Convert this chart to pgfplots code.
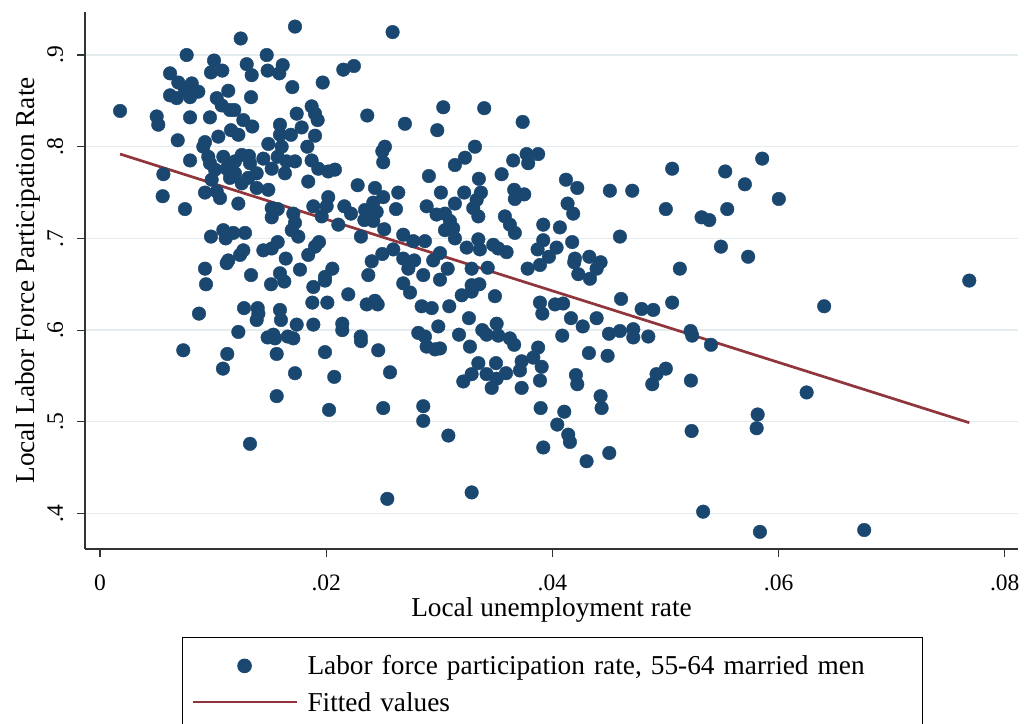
\documentclass[border=0pt]{standalone}
\usepackage{fontspec}
\setmainfont{Liberation Serif}
\usepackage{pgfplots}
\usepackage{pgfplotstable}
\pgfplotsset{compat=1.18}
\definecolor{stnavy}{HTML}{1A476F}
\definecolor{stmaroon}{HTML}{90353B}
\definecolor{stgrid}{HTML}{E4ECEF}
\pgfplotsset{
  dotlegend/.style={legend image code/.code={\draw[mark repeat=2,mark phase=2,##1] plot coordinates {(0pt,0pt) (52pt,0pt) (104pt,0pt)};}},
  linelegend/.style={legend image code/.code={\draw[##1, line width=2pt] (0pt,0pt) -- (104pt,0pt);}},
}
\pgfplotstableread{
x y
0.01724 0.931
0.01244 0.918
0.00766 0.900
0.01474 0.900
0.01008 0.894
0.01297 0.890
0.00981 0.881
0.01081 0.883
0.01341 0.878
0.01482 0.883
0.01615 0.889
0.01585 0.880
0.00619 0.880
0.00692 0.870
0.00811 0.869
0.00869 0.860
0.00619 0.856
0.00678 0.853
0.00796 0.854
0.00751 0.862
0.01134 0.861
0.01700 0.865
0.01969 0.870
0.01335 0.854
0.01032 0.853
0.01076 0.845
0.01149 0.840
0.01187 0.840
0.00177 0.839
0.00501 0.833
0.00515 0.824
0.00796 0.832
0.00972 0.832
0.01739 0.836
0.01871 0.844
0.01901 0.836
0.01924 0.829
0.01267 0.829
0.01346 0.822
0.01591 0.824
0.01783 0.821
0.01158 0.818
0.01046 0.811
0.01223 0.813
0.01591 0.813
0.01688 0.813
0.01901 0.812
0.00687 0.807
0.00928 0.805
0.00913 0.800
0.01488 0.803
0.01606 0.800
0.01833 0.800
0.00796 0.785
0.00957 0.789
0.00972 0.782
0.01090 0.789
0.01193 0.784
0.01253 0.791
0.01317 0.790
0.01326 0.782
0.01444 0.787
0.01571 0.789
0.01650 0.784
0.01724 0.784
0.01871 0.785
0.01930 0.776
0.02018 0.773
0.01017 0.775
0.01120 0.776
0.01193 0.771
0.01385 0.771
0.01518 0.776
0.01635 0.771
0.00987 0.764
0.01149 0.766
0.01311 0.766
0.00560 0.770
0.01841 0.762
0.01253 0.760
0.01385 0.755
0.01488 0.753
0.00928 0.750
0.01032 0.751
0.01061 0.744
0.00554 0.746
0.01223 0.738
0.00751 0.732
0.01518 0.733
0.01571 0.732
0.01518 0.723
0.01709 0.727
0.01724 0.717
0.01886 0.735
0.02018 0.745
0.02004 0.735
0.01960 0.724
0.01695 0.709
0.01753 0.702
0.00981 0.702
0.01090 0.709
0.01111 0.700
0.01178 0.706
0.01282 0.706
0.01571 0.696
0.01518 0.689
0.01444 0.687
0.01267 0.687
0.01238 0.682
0.01134 0.676
0.01120 0.673
0.01642 0.678
0.01841 0.682
0.01901 0.691
0.01936 0.696
0.00928 0.667
0.01768 0.666
0.01591 0.662
0.01335 0.660
0.01989 0.658
0.02054 0.667
0.02587 0.925
0.02151 0.884
0.02245 0.888
0.02363 0.834
0.02696 0.825
0.02982 0.818
0.03035 0.843
0.03397 0.842
0.03737 0.827
0.02519 0.800
0.02496 0.795
0.02504 0.783
0.02077 0.775
0.03315 0.800
0.03227 0.788
0.03138 0.780
0.03653 0.785
0.03772 0.792
0.03874 0.792
0.03786 0.782
0.02908 0.768
0.03350 0.765
0.03551 0.770
0.02278 0.758
0.02431 0.755
0.02637 0.750
0.03014 0.750
0.03220 0.750
0.03368 0.750
0.03662 0.753
0.03751 0.748
0.03668 0.743
0.02160 0.735
0.02219 0.727
0.02343 0.731
0.02416 0.739
0.02504 0.745
0.02446 0.729
0.02337 0.720
0.02416 0.719
0.02617 0.732
0.02888 0.735
0.02976 0.726
0.03050 0.727
0.03138 0.738
0.03300 0.733
0.03345 0.724
0.03330 0.742
0.03094 0.719
0.03050 0.709
0.03138 0.700
0.03123 0.711
0.03580 0.724
0.03624 0.715
0.03668 0.706
0.03919 0.715
0.04066 0.712
0.02107 0.715
0.02307 0.702
0.02513 0.710
0.02681 0.704
0.02770 0.697
0.02873 0.697
0.03242 0.690
0.03345 0.699
0.03359 0.688
0.03477 0.693
0.03521 0.689
0.03595 0.685
0.03869 0.688
0.03919 0.698
0.03969 0.680
0.04037 0.690
0.02496 0.683
0.02593 0.688
0.02402 0.675
0.02681 0.678
0.02778 0.676
0.02726 0.667
0.02946 0.676
0.03006 0.684
0.03074 0.667
0.03286 0.667
0.03428 0.668
0.03781 0.667
0.03890 0.671
0.02372 0.660
0.02858 0.660
0.05855 0.787
0.05059 0.776
0.05528 0.773
0.04120 0.764
0.04220 0.755
0.04508 0.752
0.04706 0.752
0.05702 0.759
0.06002 0.743
0.04134 0.738
0.04184 0.727
0.05003 0.732
0.05319 0.723
0.05387 0.720
0.05546 0.732
0.04175 0.696
0.04597 0.702
0.05490 0.691
0.05731 0.680
0.04199 0.678
0.04193 0.674
0.04326 0.680
0.04426 0.674
0.04391 0.667
0.04229 0.661
0.04332 0.656
0.05127 0.667
0.07686 0.654
0.06403 0.626
0.06248 0.532
0.06757 0.382
0.00937 0.650
0.01512 0.650
0.01629 0.653
0.01886 0.647
0.01989 0.654
0.00875 0.618
0.01273 0.624
0.01394 0.624
0.01400 0.618
0.01385 0.611
0.01591 0.622
0.01600 0.611
0.01877 0.630
0.02010 0.630
0.01739 0.606
0.01886 0.606
0.01223 0.598
0.01482 0.592
0.01532 0.595
0.01547 0.591
0.01660 0.593
0.01709 0.591
0.00736 0.578
0.01125 0.574
0.01562 0.574
0.01989 0.576
0.01087 0.558
0.01724 0.553
0.02071 0.549
0.01562 0.528
0.02025 0.513
0.01326 0.476
0.02195 0.639
0.02358 0.628
0.02431 0.632
0.02455 0.628
0.02681 0.651
0.02741 0.641
0.03006 0.655
0.02844 0.626
0.02933 0.624
0.03088 0.626
0.03198 0.638
0.03286 0.649
0.03354 0.650
0.03286 0.642
0.03492 0.637
0.02142 0.607
0.02142 0.600
0.02305 0.593
0.02307 0.588
0.02460 0.578
0.02564 0.554
0.02504 0.515
0.02814 0.597
0.02873 0.593
0.02991 0.604
0.02888 0.582
0.02962 0.579
0.03006 0.580
0.03174 0.595
0.03262 0.613
0.03271 0.582
0.03380 0.600
0.03418 0.595
0.03507 0.607
0.03521 0.594
0.03624 0.591
0.03662 0.584
0.03345 0.564
0.03286 0.552
0.03212 0.544
0.03418 0.552
0.03501 0.564
0.03507 0.547
0.03463 0.537
0.03590 0.553
0.03728 0.566
0.03713 0.556
0.03728 0.537
0.03831 0.570
0.03874 0.581
0.03905 0.560
0.03890 0.545
0.03890 0.630
0.03911 0.618
0.04023 0.628
0.04095 0.629
0.04087 0.594
0.02858 0.517
0.02858 0.501
0.03080 0.485
0.03896 0.515
0.04043 0.497
0.03919 0.472
0.04105 0.511
0.02540 0.416
0.03286 0.423
0.04164 0.613
0.04268 0.604
0.04391 0.613
0.04607 0.634
0.04500 0.596
0.04597 0.599
0.04715 0.601
0.04715 0.592
0.04848 0.593
0.04789 0.623
0.04892 0.622
0.05059 0.630
0.05222 0.599
0.05236 0.594
0.05402 0.584
0.04323 0.575
0.04488 0.572
0.04208 0.551
0.04220 0.541
0.04426 0.528
0.04435 0.515
0.04921 0.552
0.05003 0.558
0.04883 0.541
0.05225 0.545
0.04140 0.486
0.04155 0.478
0.04503 0.466
0.04302 0.457
0.05231 0.490
0.05815 0.508
0.05806 0.493
0.05333 0.402
0.05835 0.380
}\lfpdata
\begin{document}
\begin{tikzpicture}
\useasboundingbox (0,0) rectangle (1024pt,723pt);
\begin{axis}[
  at={(85pt,174pt)}, anchor=south west,
  scale only axis, width=933pt, height=537pt,
  xmin=-0.00133, xmax=0.08117, ymin=0.3613, ymax=0.9469,
  clip=false,
  scaled x ticks=false, scaled y ticks=false,
  axis x line*=bottom, axis y line*=left,
  axis line style={-, black!80, line width=1.2pt},
  xtick={0,0.02,0.04,0.06,0.08}, xticklabels={0,.02,.04,.06,.08},
  ytick={0.4,0.5,0.6,0.7,0.8,0.9}, yticklabels={.4,.5,.6,.7,.8,.9},
  tick align=outside, major tick length=8pt,
  tick style={black!80, line width=1.2pt},
  ymajorgrids, grid style={stgrid, line width=1.3pt},
  xticklabel style={font=\fontsize{23.5}{27}\selectfont, anchor=north, inner sep=0pt, yshift=-18pt},
  yticklabel style={font=\fontsize{23.5}{27}\selectfont, inner sep=0pt, xshift=-13.6pt, rotate=90, anchor=south},
  xlabel={Local unemployment rate},
  ylabel={Local Labor Force Participation Rate},
  xlabel style={font=\fontsize{27.3}{33}\selectfont, at={(axis description cs:0.5,-0.1261)}, anchor=base, inner sep=0pt},
  ylabel style={font=\fontsize{27.3}{33}\selectfont, at={(axis description cs:-0.0539,0.5)}, anchor=base, inner sep=0pt},
  legend cell align=left,
  legend style={at={(axis description cs:0.104,-0.1639)}, anchor=north west,
    draw=black, line width=1pt, font=\fontsize{27.3}{33}\selectfont,
    inner xsep=9pt, inner ysep=18pt, row sep=16pt,
    nodes={inner sep=0pt},
    /tikz/every odd column/.append style={column sep=10pt},
    /tikz/every even column/.append style={text width=606pt}},
]
\addplot[only marks, mark=*, mark size=6.8pt, color=stnavy, dotlegend]
  table[x=x, y=y] {\lfpdata};
\addlegendentry{Labor force participation rate, 55-64 married men}
\addplot[stmaroon, line width=2.7pt, mark=none, linelegend]
  coordinates {(0.00177,0.792) (0.07686,0.499)};
\addlegendentry{Fitted values}
\end{axis}
\end{tikzpicture}
\end{document}
